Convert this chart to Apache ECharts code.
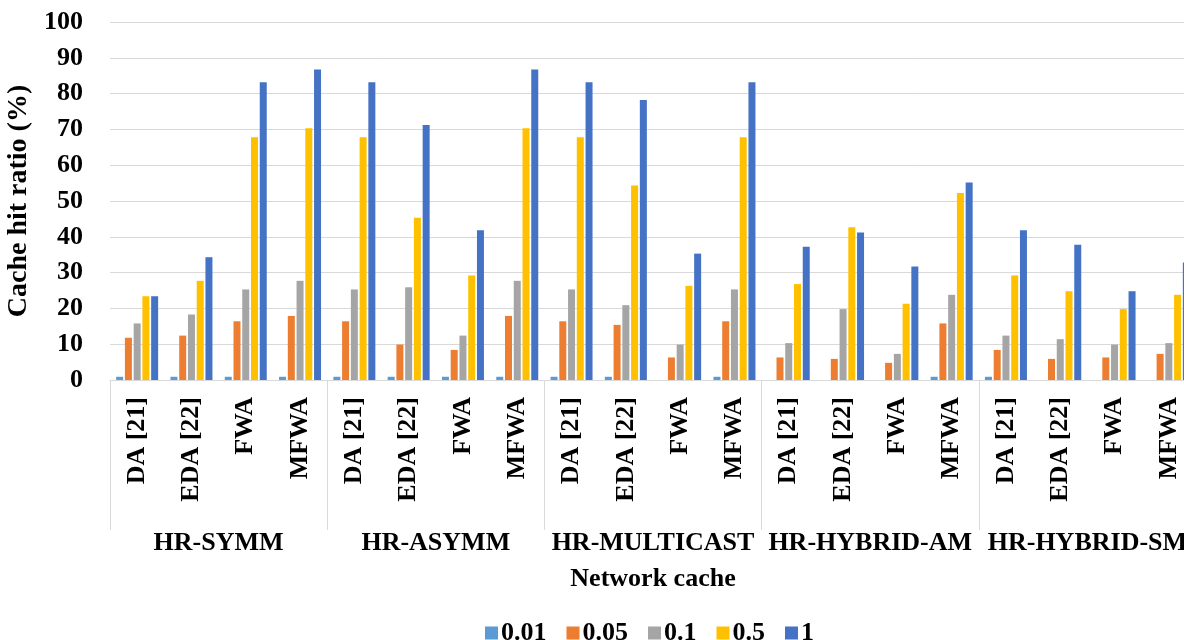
<!DOCTYPE html>
<html>
<head>
<meta charset="utf-8">
<script src="https://cdn.jsdelivr.net/npm/echarts@6/dist/echarts.min.js"></script>
<style>
  html, body { margin: 0; padding: 0; background: #fff; }
  #main { width: 1184px; height: 640px; }
</style>
</head>
<body>
<div id="main"></div>
<script>
var chart = echarts.init(document.getElementById('main'));

// categories
var methods = ['DA [21]', 'EDA [22]', 'FWA', 'MFWA'];
var cacheNames = ['HR-SYMM', 'HR-ASYMM', 'HR-MULTICAST', 'HR-HYBRID-AM', 'HR-HYBRID-SM'];
var seriesNames = ['0.01', '0.05', '0.1', '0.5', '1'];
var colors = ['#5B9BD5', '#ED7D31', '#A5A5A5', '#FFC000', '#4472C4'];
var yTicks = { min: 0, max: 100, step: 10 };

// hit ratio (%) per series, 4 methods x 5 caches
var v001 = [0.9, 0.9, 0.9, 0.9, 0.9, 0.9, 0.9, 0.9, 0.9, 0.9, 0, 0.9, 0, 0, 0, 0.9, 0.9, 0, 0, 0];
var v005 = [11.8, 12.4, 16.4, 17.9, 16.4, 9.9, 8.4, 17.9, 16.4, 15.4, 6.3, 16.4, 6.3, 5.9, 4.8, 15.8, 8.4, 5.9, 6.3, 7.3];
var v01 = [15.8, 18.3, 25.3, 27.7, 25.3, 25.9, 12.4, 27.7, 25.3, 20.9, 9.9, 25.3, 10.3, 19.8, 7.3, 23.8, 12.4, 11.4, 9.9, 10.3];
var v05 = [23.4, 27.7, 67.8, 70.3, 67.8, 45.3, 29.2, 70.3, 67.8, 54.3, 26.3, 67.8, 26.8, 42.7, 21.3, 52.2, 29.2, 24.8, 19.8, 23.8];
var v1 = [23.4, 34.3, 83.2, 86.7, 83.2, 71.2, 41.8, 86.7, 83.2, 78.2, 35.3, 83.2, 37.2, 41.2, 31.7, 55.2, 41.8, 37.8, 24.8, 32.8];
var values = [v001, v005, v01, v05, v1];

var cats = [];
cacheNames.forEach(function (c) {
    methods.forEach(function (m) { cats.push(m); });
});

var font = 'Liberation Serif';

var series = seriesNames.map(function (name, i) {
    return {
        name: name,
        type: 'bar',
        xAxisIndex: 0,
        barWidth: 7,
        barGap: '25%',
        itemStyle: { color: colors[i] },
        data: values[i]
    };
});

option = {
    backgroundColor: '#fff',
    animation: false,
    grid: { left: 110, top: 22, bottom: 260, width: 1086, containLabel: false, outerBoundsMode: 'none' },
    legend: {
        left: 480,
        top: 615,
        itemWidth: 13,
        itemHeight: 13,
        itemGap: 20,
        icon: 'rect',
        textStyle: { fontFamily: font, fontWeight: 'bold', fontSize: 26, color: '#000', padding: [0, 0, 0, -2] },
        data: seriesNames
    },
    xAxis: [{
        type: 'category',
        data: cats,
        axisLine: { lineStyle: { color: '#d9d9d9' } },
        axisTick: { show: false },
        axisLabel: {
            interval: 0,
            rotate: 90,
            margin: 17,
            fontFamily: font,
            fontWeight: 'bold',
            fontSize: 26,
            color: '#000'
        }
    }, {
        type: 'category',
        position: 'bottom',
        data: cacheNames,
        axisLine: { show: false },
        axisTick: { show: true, interval: 0, length: 150, lineStyle: { color: '#d9d9d9' } },
        axisLabel: {
            interval: 0,
            margin: 150,
            fontFamily: font,
            fontWeight: 'bold',
            fontSize: 26,
            color: '#000'
        },
        name: 'Network cache',
        nameLocation: 'middle',
        nameGap: 186,
        nameTextStyle: { fontFamily: font, fontWeight: 'bold', fontSize: 26, color: '#000' }
    }],
    yAxis: {
        type: 'value',
        min: yTicks.min,
        max: yTicks.max,
        interval: yTicks.step,
        axisLine: { show: false },
        axisTick: { show: false },
        splitLine: { lineStyle: { color: '#d9d9d9', width: 1 } },
        axisLabel: { margin: 27, fontFamily: font, fontWeight: 'bold', fontSize: 26, color: '#000' },
        name: 'Cache hit ratio (%)',
        nameLocation: 'middle',
        nameRotate: 90,
        nameGap: 62,
        nameTextStyle: { fontFamily: font, fontWeight: 'bold', fontSize: 28, color: '#000' }
    },
    series: series
};

chart.setOption(option);
</script>
</body>
</html>
